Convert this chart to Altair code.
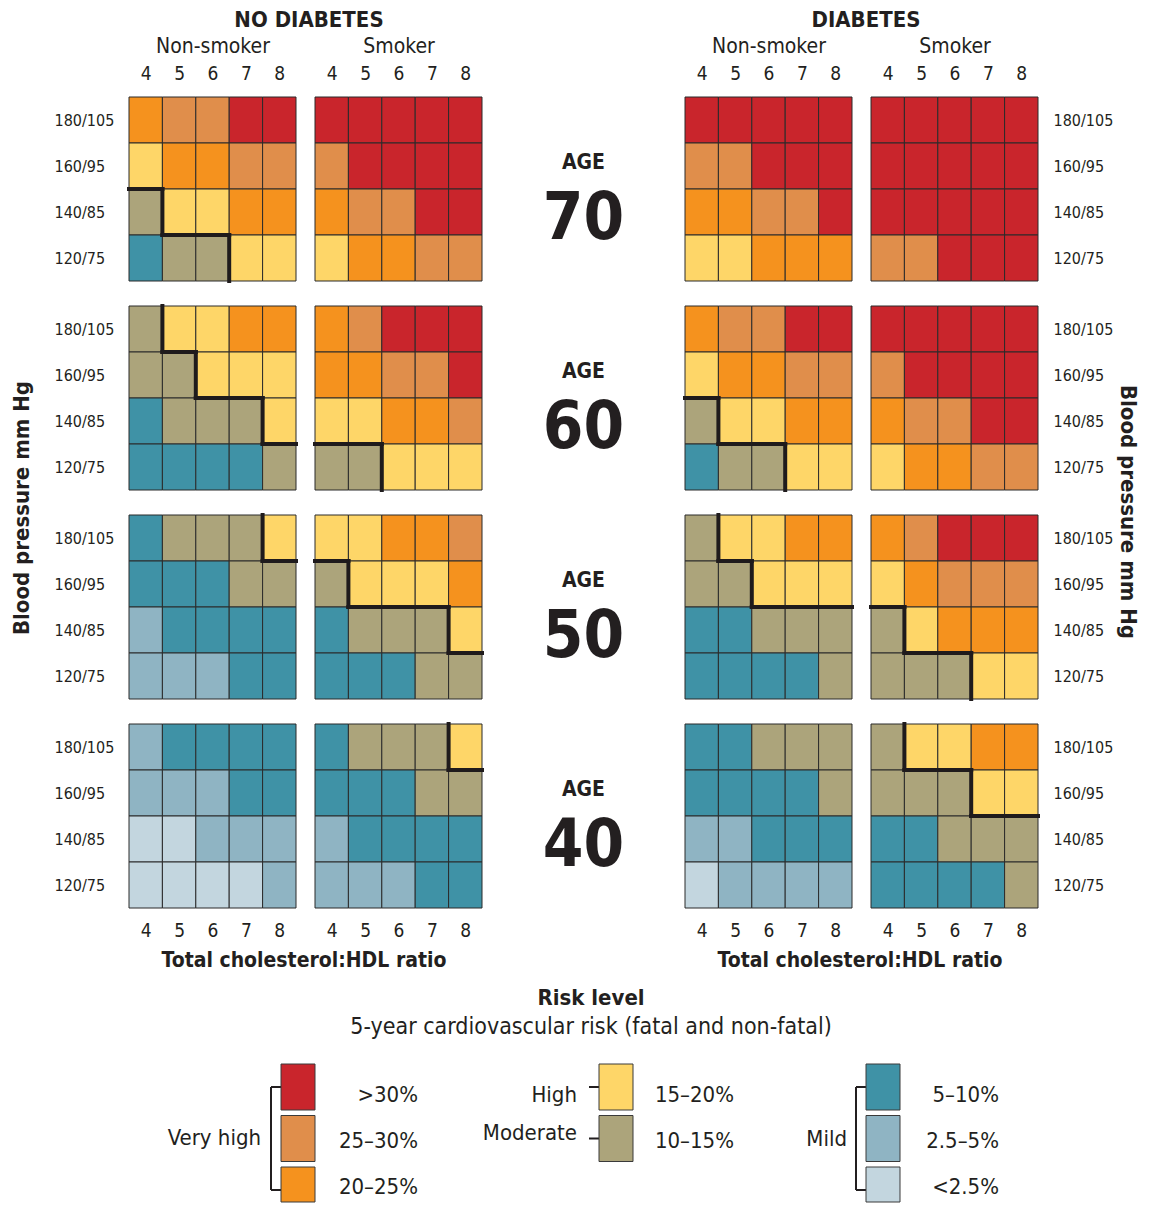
import json
import altair as alt
import pandas as pd

FONT = "DejaVu Sans Condensed, Liberation Sans Narrow, sans-serif"
TEXT = "#231f20"
CELL_STROKE = "#2b2b2b"

# ---------------- data ----------------
RATIOS = [4, 5, 6, 7, 8]
BP_LABELS = ["180/105", "160/95", "140/85", "120/75"]          # top -> bottom
AGES = [70, 60, 50, 40]
RISK_LABELS = ["<2.5%", "2.5–5%", "5–10%", "10–15%", "15–20%", "20–25%", "25–30%", ">30%"]
RISK_COLORS = ["#c3d6df", "#8fb4c3", "#3f92a6", "#aca47b", "#fed668", "#f5921e", "#e08e4b", "#c9252c"]
HIGH_LEVEL = 4   # first level at or above "High" (15-20%)

# risk level index per cell; rows 180/105 .. 120/75, columns ratio 4..8
NODIAB_NONSMOKER = {
    70: [[5, 6, 6, 7, 7], [4, 5, 5, 6, 6], [3, 4, 4, 5, 5], [2, 3, 3, 4, 4]],
    60: [[3, 4, 4, 5, 5], [3, 3, 4, 4, 4], [2, 3, 3, 3, 4], [2, 2, 2, 2, 3]],
    50: [[2, 3, 3, 3, 4], [2, 2, 2, 3, 3], [1, 2, 2, 2, 2], [1, 1, 1, 2, 2]],
    40: [[1, 2, 2, 2, 2], [1, 1, 1, 2, 2], [0, 0, 1, 1, 1], [0, 0, 0, 0, 1]],
}
NODIAB_SMOKER = {
    70: [[7, 7, 7, 7, 7], [6, 7, 7, 7, 7], [5, 6, 6, 7, 7], [4, 5, 5, 6, 6]],
    60: [[5, 6, 7, 7, 7], [5, 5, 6, 6, 7], [4, 4, 5, 5, 6], [3, 3, 4, 4, 4]],
    50: [[4, 4, 5, 5, 6], [3, 4, 4, 4, 5], [2, 3, 3, 3, 4], [2, 2, 2, 3, 3]],
    40: [[2, 3, 3, 3, 4], [2, 2, 2, 3, 3], [1, 2, 2, 2, 2], [1, 1, 1, 2, 2]],
}
DIAB_NONSMOKER = {
    70: [[7, 7, 7, 7, 7], [6, 6, 7, 7, 7], [5, 5, 6, 6, 7], [4, 4, 5, 5, 5]],
    60: [[5, 6, 6, 7, 7], [4, 5, 5, 6, 6], [3, 4, 4, 5, 5], [2, 3, 3, 4, 4]],
    50: [[3, 4, 4, 5, 5], [3, 3, 4, 4, 4], [2, 2, 3, 3, 3], [2, 2, 2, 2, 3]],
    40: [[2, 2, 3, 3, 3], [2, 2, 2, 2, 3], [1, 1, 2, 2, 2], [0, 1, 1, 1, 1]],
}
DIAB_SMOKER = {
    70: [[7, 7, 7, 7, 7], [7, 7, 7, 7, 7], [7, 7, 7, 7, 7], [6, 6, 7, 7, 7]],
    60: [[7, 7, 7, 7, 7], [6, 7, 7, 7, 7], [5, 6, 6, 7, 7], [4, 5, 5, 6, 6]],
    50: [[5, 6, 7, 7, 7], [4, 5, 6, 6, 6], [3, 4, 5, 5, 5], [3, 3, 3, 4, 4]],
    40: [[3, 4, 4, 5, 5], [3, 3, 3, 4, 4], [2, 2, 3, 3, 3], [2, 2, 2, 2, 3]],
}

# legend content
LEG_COLUMNS = [[">30%", "25–30%", "20–25%"], ["15–20%", "10–15%"], ["5–10%", "2.5–5%", "<2.5%"]]
LEG_GROUPS = [("Very high", 0, 0, 2), ("High", 1, 0, 0), ("Moderate", 1, 1, 1), ("Mild", 2, 0, 2)]
LEG_TITLE = "Risk level"
LEG_SUBTITLE = "5-year cardiovascular risk (fatal and non-fatal)"

# ---------------- layout ----------------
W, H = 167, 184
AW = 165
ROW_GAP, COL_GAP = 25, 19
LEFT0, TOP0 = 129, 97          # page position of the first panel
PAGE_W, PAGE_H = 1152, 1212


def cells_df(grid):
    rows = []
    n = len(grid)
    for r, row in enumerate(grid):
        yi = n - 1 - r
        for c, lvl in enumerate(row):
            x = RATIOS[c]
            rows.append(dict(x0=x - 0.5, x1=x + 0.5, y0=yi, y1=yi + 1,
                             risk=RISK_LABELS[lvl], bp=BP_LABELS[r], ratio=x))
    return pd.DataFrame(rows)


def boundary_df(grid):
    segs = []
    n, m = len(grid), len(grid[0])
    hi = lambda r, c: grid[r][c] >= HIGH_LEVEL
    for r in range(n):
        yi = n - 1 - r
        for c in range(m):
            if c + 1 < m and hi(r, c) != hi(r, c + 1):
                xb = RATIOS[c] + 0.5
                segs.append(dict(xa=xb, xb=xb, ya=yi, yb=yi + 1))
            if r + 1 < n and hi(r, c) != hi(r + 1, c):
                segs.append(dict(xa=RATIOS[c] - 0.5, xb=RATIOS[c] + 0.5, ya=yi, yb=yi))
    return pd.DataFrame(segs)


def note(text, x, y, size, weight="bold", angle=0, align="center"):
    return alt.Chart(pd.DataFrame({"t": [text]})).mark_text(
        font=FONT, fontSize=size, fontWeight=weight, angle=angle, color=TEXT,
        baseline="middle", align=align
    ).encode(text="t:N", x=alt.value(x), y=alt.value(y))


YLABEL_EXPR = json.dumps(BP_LABELS[::-1]) + "[floor(datum.value)]"


def panel(grid, row, col, top_title=None, notes=()):
    xs = alt.Scale(domain=[3.5, 8.5], nice=False, zero=False)
    ys = alt.Scale(domain=[0, 4], nice=False, zero=False)
    common = dict(ticks=False, tickSize=0, domain=False, grid=False, labelFont=FONT,
                  labelColor=TEXT)
    if row == 0:
        xaxis = alt.Axis(orient="top", values=RATIOS, format="d", title=top_title,
                         titleFont=FONT, titleFontSize=21, titleFontWeight="normal",
                         titleColor=TEXT, titlePadding=8, labelPadding=14, labelFontSize=19, **common)
    elif row == 3:
        xaxis = alt.Axis(orient="bottom", values=RATIOS, format="d", title=None,
                         labelPadding=13, labelFontSize=19, **common)
    else:
        xaxis = None
    if col == 0:
        yaxis = alt.Axis(orient="left", values=[0.5, 1.5, 2.5, 3.5], labelExpr=YLABEL_EXPR,
                         labelAlign="left", labelPadding=75, labelFontSize=16, title=None, **common)
    elif col == 4:
        yaxis = alt.Axis(orient="right", values=[0.5, 1.5, 2.5, 3.5], labelExpr=YLABEL_EXPR,
                         labelAlign="left", labelPadding=15, labelFontSize=16, title=None, **common)
    else:
        yaxis = None

    rect = alt.Chart(cells_df(grid)).mark_rect(stroke=CELL_STROKE, strokeWidth=1).encode(
        x=alt.X("x0:Q", scale=xs, axis=xaxis),
        x2="x1",
        y=alt.Y("y0:Q", scale=ys, axis=yaxis),
        y2="y1",
        color=alt.Color("risk:N", scale=alt.Scale(domain=RISK_LABELS, range=RISK_COLORS), legend=None),
        tooltip=["bp:N", "ratio:Q", "risk:N"],
    )
    layers = [rect]
    segs = boundary_df(grid)
    if len(segs):
        layers.append(alt.Chart(segs).mark_rule(color="#1f1b1c", strokeWidth=4, strokeCap="square").encode(
            x=alt.X("xa:Q", scale=xs, axis=xaxis), x2="xb",
            y=alt.Y("ya:Q", scale=ys, axis=yaxis), y2="yb"))
    layers.extend(notes)
    return alt.layer(*layers).properties(width=W, height=H)


# ---------------- legend (drawn in page coordinates through its own scales) ----------------
SW_LEFT = [281, 599, 866]
SW_W, SW_H = 34, 46
ROW_TOP0, ROW_PITCH = 1064, 51.5
LABEL_RIGHT = [418, 734, 999]
LABEL_Y0, LABEL_PITCH = 1095, 46
GROUP_RIGHT = [261, 577, 847]
GROUP_Y = {"Very high": 1138, "High": 1095, "Moderate": 1133, "Mild": 1139}
BRACKET_GAP = 10
VIEW_BOTTOM = PAGE_H - 10
TITLE_X, TITLE_Y, SUB_Y = 591, 998, 1027


def legend_layers(panel_x0, panel_y0):
    lx = alt.Scale(domain=[0, PAGE_W], range=[-panel_x0, PAGE_W - panel_x0], nice=False, zero=False)
    ly = alt.Scale(domain=[0, PAGE_H], range=[-panel_y0, PAGE_H - panel_y0], nice=False, zero=False)
    X = lambda f: alt.X(f, scale=lx, axis=None)
    Y = lambda f: alt.Y(f, scale=ly, axis=None)

    sw_rows, lab_rows = [], []
    for ci, items in enumerate(LEG_COLUMNS):
        for ri, lab in enumerate(items):
            top = ROW_TOP0 + ri * ROW_PITCH
            sw_rows.append(dict(x=SW_LEFT[ci], x2=SW_LEFT[ci] + SW_W, y=top,
                                y2=min(top + SW_H, VIEW_BOTTOM), risk=lab))
            lab_rows.append(dict(x=LABEL_RIGHT[ci], y=LABEL_Y0 + ri * LABEL_PITCH, t=lab))
    br_rows, grp_rows = [], []
    for name, ci, r0, r1 in LEG_GROUPS:
        bx = SW_LEFT[ci] - BRACKET_GAP
        ya = ROW_TOP0 + r0 * ROW_PITCH + SW_H / 2
        yb = ROW_TOP0 + r1 * ROW_PITCH + SW_H / 2
        br_rows.append(dict(x=bx, x2=SW_LEFT[ci], y=ya, y2=ya))
        if r1 != r0:
            br_rows.append(dict(x=bx, x2=SW_LEFT[ci], y=yb, y2=yb))
            br_rows.append(dict(x=bx, x2=bx, y=ya, y2=yb))
        grp_rows.append(dict(x=GROUP_RIGHT[ci], y=GROUP_Y[name], t=name))

    sw = alt.Chart(pd.DataFrame(sw_rows)).mark_rect(stroke="#3a3a3a", strokeWidth=1).encode(
        x=X("x:Q"), x2="x2", y=Y("y:Q"), y2="y2",
        color=alt.Color("risk:N", scale=alt.Scale(domain=RISK_LABELS, range=RISK_COLORS), legend=None))
    lab = alt.Chart(pd.DataFrame(lab_rows)).mark_text(
        font=FONT, fontSize=22, color=TEXT, align="right", baseline="middle").encode(
        x=X("x:Q"), y=Y("y:Q"), text="t:N")
    grp = alt.Chart(pd.DataFrame(grp_rows)).mark_text(
        font=FONT, fontSize=22, color=TEXT, align="right", baseline="middle").encode(
        x=X("x:Q"), y=Y("y:Q"), text="t:N")
    br = alt.Chart(pd.DataFrame(br_rows)).mark_rule(color="#231f20", strokeWidth=2).encode(
        x=X("x:Q"), x2="x2", y=Y("y:Q"), y2="y2")
    t1 = alt.Chart(pd.DataFrame({"x": [TITLE_X], "y": [TITLE_Y], "t": [LEG_TITLE]})).mark_text(
        font=FONT, fontSize=22, fontWeight="bold", color=TEXT, baseline="middle").encode(
        x=X("x:Q"), y=Y("y:Q"), text="t:N")
    t2 = alt.Chart(pd.DataFrame({"x": [TITLE_X], "y": [SUB_Y], "t": [LEG_SUBTITLE]})).mark_text(
        font=FONT, fontSize=23, color=TEXT, baseline="middle").encode(
        x=X("x:Q"), y=Y("y:Q"), text="t:N")
    return [br, sw, lab, grp, t1, t2]


def age_panel(age, extra=()):
    df = pd.DataFrame({"lab": ["AGE"], "age": [str(age)]})
    base = alt.Chart(df)
    a = base.mark_text(font=FONT, fontSize=21, fontWeight="bold", color=TEXT, baseline="middle").encode(
        text="lab:N", x=alt.value(AW / 2), y=alt.value(66))
    n = base.mark_text(font=FONT, fontSize=65, fontWeight="bold", color=TEXT, baseline="middle").encode(
        text="age:N", x=alt.value(AW / 2), y=alt.value(122))
    return alt.layer(a, n, *extra).properties(width=AW, height=H)


charts = []
for r, age in enumerate(AGES):
    n0, n3, n4, extra = [], [], [], []
    if r == 0:
        n0 = [note("NO DIABETES", 180, -77, 22)]
        n3 = [note("DIABETES", 181, -77, 22)]
    if r == 1:
        n0 = [note("Blood pressure mm Hg", -107, H + 18, 22, angle=270)]
        n4 = [note("Blood pressure mm Hg", 257, H + 22, 22, angle=90)]
    if r == 3:
        n0 = [note("Total cholesterol:HDL ratio", 175, 237, 21)]
        n3 = [note("Total cholesterol:HDL ratio", 175, 237, 21)]
        extra = legend_layers(LEFT0 + 2 * (W + COL_GAP), TOP0 + 3 * (H + ROW_GAP))
    charts.append(panel(NODIAB_NONSMOKER[age], r, 0, "Non-smoker", n0))
    charts.append(panel(NODIAB_SMOKER[age], r, 1, "Smoker"))
    charts.append(age_panel(age, extra))
    charts.append(panel(DIAB_NONSMOKER[age], r, 3, "Non-smoker", n3))
    charts.append(panel(DIAB_SMOKER[age], r, 4, "Smoker", n4))

chart = alt.concat(*charts, columns=5, spacing={"row": ROW_GAP, "column": COL_GAP},
                   bounds="flush", align="each").properties(
    padding={"left": 3, "top": 1, "right": 4, "bottom": 0}).configure_view(stroke=None)

chart.save("out.html", embed_options={"renderer": "svg", "actions": False})
